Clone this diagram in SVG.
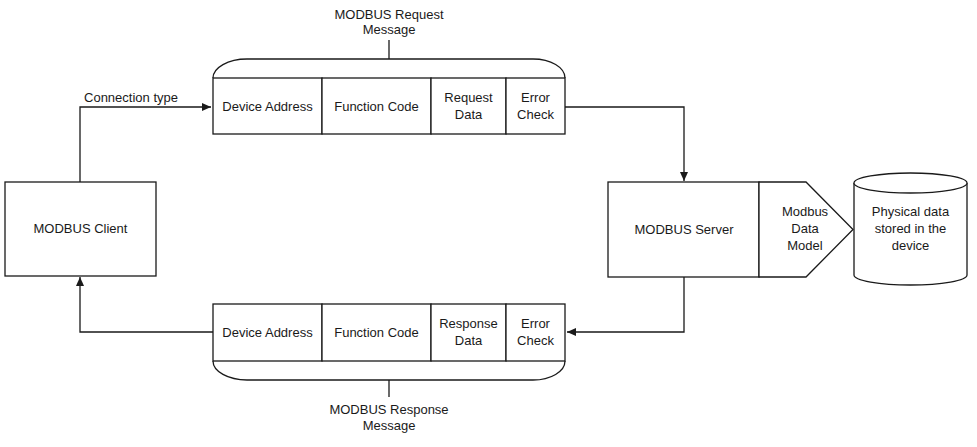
<svg xmlns="http://www.w3.org/2000/svg" width="977" height="447" viewBox="0 0 977 447">
<defs>
<style>
.s{fill:#fff;stroke:#1a1a1a;stroke-width:1.3}
.l{fill:none;stroke:#1a1a1a;stroke-width:1.3}
text{font-family:"Liberation Sans",Arial,sans-serif;font-size:13px;fill:#1a1a1a;text-anchor:middle}
</style>
<marker id="ah" markerWidth="10" markerHeight="10" refX="9" refY="5" orient="auto" markerUnits="userSpaceOnUse">
<path d="M0,1 L9,5 L0,9 Z" fill="#1a1a1a"/>
</marker>
</defs>
<rect width="977" height="447" fill="#fff"/>
<g id="connectors">
<path class="l" d="M80,182 V107 H211" marker-end="url(#ah)"/>
<path class="l" d="M565,107 H684 V181" marker-end="url(#ah)"/>
<path class="l" d="M684,277 V332 H567" marker-end="url(#ah)"/>
<path class="l" d="M213,332 H80 V277" marker-end="url(#ah)"/>
<path class="l" d="M389,40 V59"/>
<path class="l" d="M389,380 V397"/>
</g>
<g id="request-label">
<text x="389" y="19">MODBUS Request</text>
<text x="389" y="34">Message</text>
</g>
<g id="request">
<path class="l" d="M213,78 A34,19 0 0 1 247,59 L533,59 A32,19 0 0 1 565,78"/>
<rect class="s" x="213" y="78" width="109" height="56"/>
<rect class="s" x="322" y="78" width="109" height="56"/>
<rect class="s" x="431" y="78" width="75" height="56"/>
<rect class="s" x="506" y="78" width="59" height="56"/>
<text x="267.5" y="111">Device Address</text>
<text x="376.5" y="111">Function Code</text>
<text x="468.5" y="102">Request</text>
<text x="468.5" y="119">Data</text>
<text x="535.5" y="102">Error</text>
<text x="535.5" y="119">Check</text>
</g>
<g id="response">
<path class="l" d="M213,361 A34,19 0 0 0 247,380 L533,380 A32,19 0 0 0 565,361"/>
<rect class="s" x="213" y="304" width="109" height="57"/>
<rect class="s" x="322" y="304" width="109" height="57"/>
<rect class="s" x="431" y="304" width="75" height="57"/>
<rect class="s" x="506" y="304" width="59" height="57"/>
<text x="267.5" y="337">Device Address</text>
<text x="376.5" y="337">Function Code</text>
<text x="468.5" y="328">Response</text>
<text x="468.5" y="345">Data</text>
<text x="535.5" y="328">Error</text>
<text x="535.5" y="345">Check</text>
</g>
<g id="response-label">
<text x="389" y="414">MODBUS Response</text>
<text x="389" y="430">Message</text>
</g>
<g id="client">
<rect class="s" x="5" y="182" width="151" height="94"/>
<text x="80.5" y="233">MODBUS Client</text>
</g>
<g id="connection-label">
<text x="131" y="102">Connection type</text>
</g>
<g id="server">
<rect class="s" x="608" y="182" width="151" height="95"/>
<text x="684" y="234">MODBUS Server</text>
</g>
<g id="data-model">
<path class="s" d="M759,182 H806 L853,229.5 L806,277 H759 Z"/>
<text x="805" y="216">Modbus</text>
<text x="805" y="233">Data</text>
<text x="805" y="250">Model</text>
</g>
<g id="storage">
<path class="s" d="M854,183 V275 A56.5,10 0 0 0 967,275 V183"/>
<ellipse class="s" cx="910.5" cy="183" rx="56.5" ry="10"/>
<text x="910.5" y="216">Physical data</text>
<text x="910.5" y="233">stored in the</text>
<text x="910.5" y="250">device</text>
</g>
</svg>
